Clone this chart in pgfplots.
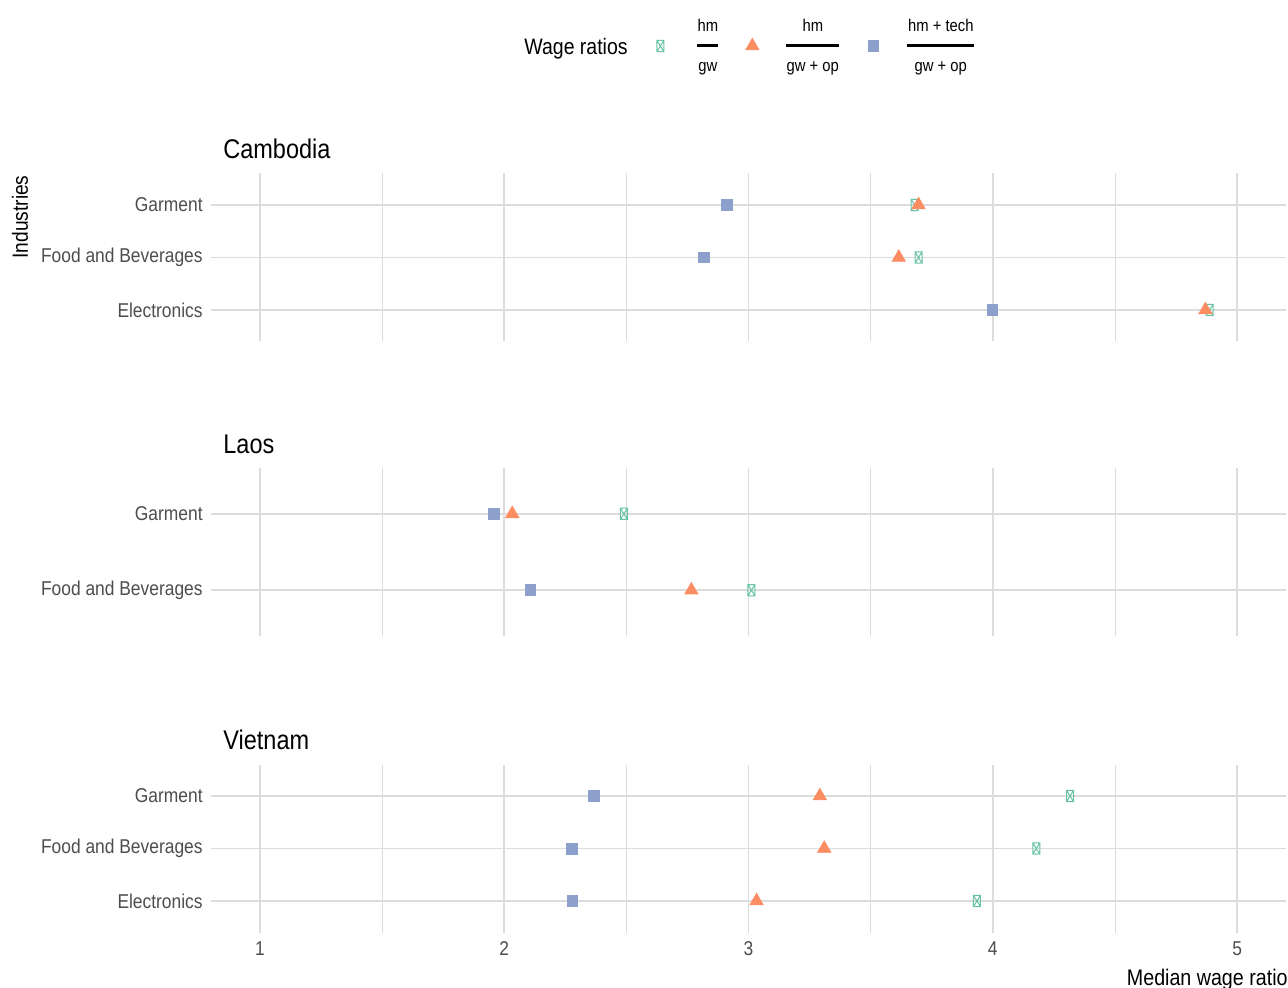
\documentclass[border=0pt]{standalone}
\usepackage{pgfplots}
\pgfplotsset{compat=1.18}
\usepackage{fontspec}
\setmainfont[FakeStretch=0.87]{Liberation Sans}
\definecolor{cteal}{HTML}{66C2A5}
\definecolor{corange}{HTML}{FC8D62}
\definecolor{cblue}{HTML}{8DA0CB}
\definecolor{cgrid}{HTML}{DCDCDC}
\definecolor{ctick}{HTML}{4D4D4D}
\pgfdeclareplotmark{boxx}{%
  \pgfpathrectangle{\pgfpoint{-1.75pt}{-2.8pt}}{\pgfpoint{3.5pt}{5.6pt}}%
  \pgfpathmoveto{\pgfpoint{-1.75pt}{-2.8pt}}\pgfpathlineto{\pgfpoint{1.75pt}{2.8pt}}%
  \pgfpathmoveto{\pgfpoint{-1.75pt}{2.8pt}}\pgfpathlineto{\pgfpoint{1.75pt}{-2.8pt}}%
  \pgfusepathqstroke}
\newcommand{\wfrac}[3]{{\fontsize{8.5}{9}\selectfont\raisebox{9.5pt}{\begin{tabular}{@{}c@{}}#1\\[1pt]\rule[2.2pt]{#3}{1.2pt}\\[1pt]#2\end{tabular}}}}
\pgfplotsset{
  panel/.style={
    scale only axis, width=537.5pt, height=84pt,
    xmin=0.8, xmax=5.2,
    anchor=north west,
    axis line style={draw=none},
    major tick length=0pt, minor tick length=0pt,
    xtick={1,2,3,4,5}, minor xtick={1.5,2.5,3.5,4.5},
    xmajorgrids, xminorgrids, ymajorgrids,
    major grid style={cgrid, line width=0.7pt},
    minor grid style={cgrid, line width=0.45pt},
    xticklabels={},
    yticklabel style={inner sep=0pt, xshift=-4pt, font=\fontsize{10}{12}\selectfont, text=ctick},
    title style={at={(rel axis cs:0,1)}, anchor=base west, inner sep=0pt, xshift=6pt, yshift=1.5pt, font=\fontsize{13.5}{15}\selectfont},
    clip=false,
  },
  tealm/.style={only marks, mark=boxx, mark options={draw=cteal, line width=0.5pt, fill=none}},
  orangem/.style={only marks, mark=triangle*, mark size=3.8pt, mark options={draw=corange, fill=corange}},
  bluem/.style={only marks, mark=square*, mark size=2.7pt, mark options={draw=cblue, fill=cblue}},
}
\begin{document}
\begin{tikzpicture}
\useasboundingbox (0,0) rectangle (644pt,-494pt);
\node[anchor=base west, inner sep=0pt, font=\fontsize{11.2}{13}\selectfont] at (262pt,-27.5pt) {Wage ratios};
\node[rotate=90, inner sep=0pt, font=\fontsize{11}{13}\selectfont] at (10pt,-108.5pt) {Industries};
% Cambodia
\begin{axis}[panel, at={(105.5pt,-86.75pt)}, ymin=0.4, ymax=3.6,
  ytick={1,2,3}, yticklabels={Electronics,Food and Beverages,Garment},
  title={Cambodia},
  legend columns=-1,
  legend style={draw=none, inner sep=0pt, at={(0.4144,1.759)}, anchor=west,
    nodes={inner sep=0pt},
    /tikz/column 1/.style={column sep=16.75pt},
    /tikz/column 2/.style={column sep=13.7pt},
    /tikz/column 3/.style={column sep=13.7pt},
    /tikz/column 4/.style={column sep=14.3pt},
    /tikz/column 5/.style={column sep=14.3pt}},
]
\addplot[tealm] coordinates {(3.68,3) (3.696,2) (4.887,1)};
\addplot[orangem] coordinates {(3.696,3) (3.615,2) (4.870,1)};
\addplot[bluem] coordinates {(2.91,3) (2.816,2) (3.998,1)};
\legend{\wfrac{hm}{gw}{10.5pt},\wfrac{hm}{gw + op}{26.5pt},\wfrac{hm + tech}{gw + op}{33.5pt}}
\end{axis}
% Laos
\begin{axis}[panel, at={(105.5pt,-234pt)}, ymin=0.4, ymax=2.6,
  ytick={1,2}, yticklabels={Food and Beverages,Garment},
  title={Laos}]
\addplot[tealm] coordinates {(2.49,2) (3.012,1)};
\addplot[orangem] coordinates {(2.033,2) (2.766,1)};
\addplot[bluem] coordinates {(1.958,2) (2.107,1)};
\end{axis}
% Vietnam
\begin{axis}[panel, at={(105.5pt,-382.25pt)}, ymin=0.4, ymax=3.6,
  ytick={1,2,3}, yticklabels={Electronics,Food and Beverages,Garment},
  title={Vietnam},
  xticklabels={1,2,3,4,5},
  xticklabel style={inner sep=0pt, anchor=north, yshift=-4.25pt, font=\fontsize{10}{12}\selectfont, text=ctick, /pgf/number format/assume math mode=true},
  xlabel={Median wage ratio},
  xlabel style={at={(rel axis cs:1,0)}, anchor=north east, inner sep=0pt, xshift=1pt, yshift=-18.25pt, font=\fontsize{11.3}{13}\selectfont},
]
\addplot[tealm] coordinates {(4.316,3) (4.178,2) (3.935,1)};
\addplot[orangem] coordinates {(3.292,3) (3.31,2) (3.033,1)};
\addplot[bluem] coordinates {(2.368,3) (2.278,2) (2.279,1)};
\end{axis}
\end{tikzpicture}
\end{document}
